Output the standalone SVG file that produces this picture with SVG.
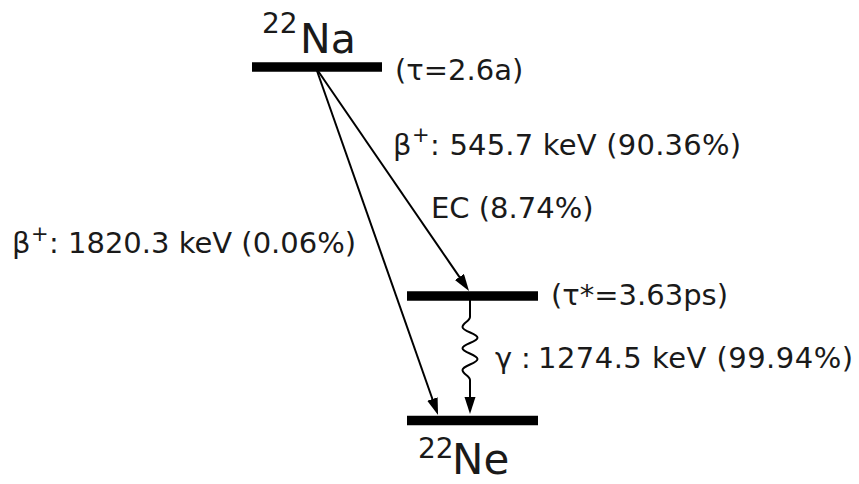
<svg xmlns="http://www.w3.org/2000/svg" width="859" height="484" viewBox="0 0 859 484">
<style>
text { font-family: "DejaVu Sans", "Liberation Sans", sans-serif; fill: #1a1a1a; }
.lbl { font-size: 29px; }
.sup { font-size: 21px; }
.level { stroke: #000; stroke-width: 9.5; fill: none; }
.conn { stroke: #000; stroke-width: 2; fill: none; }
</style>
<defs>
<marker id="ah" markerUnits="userSpaceOnUse" markerWidth="18" markerHeight="12" refX="9" refY="5.5" orient="auto">
<path d="M0,0 L17,5.5 L0,11 z" fill="#000"/>
</marker>
</defs>
<g id="na22">
<line class="level" x1="252" y1="67" x2="382" y2="67"/>
<text x="262" y="33" font-size="28">22</text>
<text x="300" y="53" font-size="41">Na</text>
<text class="lbl" x="395" y="79.5">(τ=2.6a)</text>
</g>
<g id="ne22-excited">
<line class="level" x1="407" y1="296" x2="538" y2="296"/>
<text class="lbl" x="551" y="304.5">(τ*=3.63ps)</text>
</g>
<g id="ne22-ground">
<line class="level" x1="407" y1="420.5" x2="538" y2="420.5"/>
<text x="418" y="458" font-size="28">22</text>
<text x="452" y="474" font-size="42">Ne</text>
</g>
<g id="connectors">
<line class="conn" x1="316" y1="68" x2="464.5" y2="284.4" marker-end="url(#ah)"/>
<line class="conn" x1="316" y1="68" x2="435.4" y2="407.5" marker-end="url(#ah)"/>
<path class="conn" stroke-width="2.4" d="M470,300 V317 C470,321 462.5,323 462.5,327 C462.5,331.5 477.5,333.5 477.5,337.7 C477.5,342 462.5,344 462.5,348.3 C462.5,352.5 477.5,354.5 477.5,359 C477.5,363.5 462.5,365.5 462.5,370 C462.5,374 470,376 470,380 V406" marker-end="url(#ah)"/>
</g>
<g id="labels">
<text class="lbl" x="393" y="154.5">β</text>
<text class="sup" x="412" y="142">+</text>
<text class="lbl" x="430" y="154.5" textLength="311">: 545.7 keV (90.36%)</text>
<text class="lbl" x="431" y="218">EC (8.74%)</text>
<text class="lbl" x="12" y="253">β</text>
<text class="sup" x="31" y="241">+</text>
<text class="lbl" x="49" y="253">: 1820.3 keV (0.06%)</text>
<text class="lbl" x="495" y="368">γ</text>
<text class="lbl" x="521" y="368">:</text>
<text class="lbl" x="538" y="368" textLength="315">1274.5 keV (99.94%)</text>
</g>
</svg>
